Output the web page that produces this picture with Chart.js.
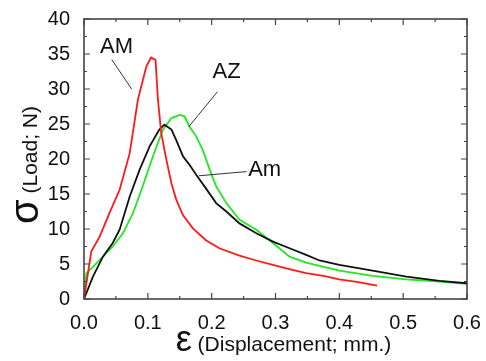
<!DOCTYPE html>
<html>
<head>
<meta charset="utf-8">
<script src="https://cdn.jsdelivr.net/npm/chart.js@4/dist/chart.umd.min.js"></script>
<style>
    html, body { margin: 0; padding: 0; background: #fff; }
    #wrap { width: 486px; height: 361px; }
</style>
</head>
<body>
<div id="wrap"><canvas id="loadChart" width="486" height="361"></canvas></div>
<script>
// Curve data (displacement, load)
const amX = [0, 0.0115, 0.0245, 0.040, 0.0558, 0.0715, 0.0845, 0.0976, 0.105, 0.109, 0.112, 0.1158, 0.121, 0.129, 0.137, 0.1445, 0.155, 0.1706, 0.191, 0.212, 0.2436, 0.27, 0.296, 0.32, 0.348, 0.375, 0.40, 0.43, 0.459];
const amY = [0, 6.8, 8.9, 12.3, 15.6, 20.8, 28.5, 33.2, 34.5, 34.3, 34.2, 28.5, 23.7, 19.9, 16.5, 14.2, 12.0, 10.1, 8.4, 7.25, 6.2, 5.5, 4.86, 4.3, 3.7, 3.3, 2.8, 2.4, 1.9];

const amSmallX = [0, 0.014, 0.0297, 0.045, 0.0558, 0.0715, 0.087, 0.1028, 0.118, 0.126, 0.137, 0.1445, 0.155, 0.165, 0.176, 0.191, 0.207, 0.223, 0.2436, 0.27, 0.296, 0.322, 0.348, 0.369, 0.40, 0.452, 0.505, 0.557, 0.6];
const amSmallY = [0, 3.2, 6.05, 8.0, 9.9, 14.6, 18.45, 21.8, 24.2, 24.9, 24.2, 22.7, 20.4, 19.2, 17.7, 15.8, 13.7, 12.5, 10.8, 9.4, 8.2, 7.25, 6.3, 5.5, 4.86, 4.05, 3.2, 2.6, 2.25];

const azX = [0, 0.0037, 0.014, 0.0297, 0.045, 0.061, 0.0767, 0.092, 0.108, 0.1236, 0.137, 0.150, 0.1575, 0.165, 0.176, 0.186, 0.197, 0.207, 0.223, 0.2436, 0.27, 0.296, 0.322, 0.348, 0.40, 0.452, 0.505, 0.557, 0.6];
const azY = [0, 3.7, 4.6, 6.05, 7.5, 9.4, 12.25, 16.1, 20.4, 24.2, 25.85, 26.3, 26.1, 24.65, 23.2, 21.3, 18.45, 16.1, 13.7, 11.3, 9.9, 8.0, 6.05, 5.2, 4.05, 3.3, 2.8, 2.5, 2.15];

// Tick values
const xTicks = [0, 0.1, 0.2, 0.3, 0.4, 0.5, 0.6];
const yTicks = [0, 5, 10, 15, 20, 25, 30, 35, 40];

// Labels with leader lines, in data units
const labelNames = ['AM', 'AZ', 'Am'];
const labelPos = [[0.051, 36.05], [0.2233, 32.5], [0.283, 18.45]];
const leaderFrom = [[0.0435, 34.2], [0.209, 29.6], [0.2546, 18.2]];
const leaderTo = [[0.0746, 30.0], [0.164, 24.6], [0.1795, 17.6]];

const FONT = '"Liberation Sans", Arial, sans-serif';

function toPoints(xs, ys) {
    return xs.map((x, i) => ({ x: x, y: ys[i] }));
}

// Frame, inward ticks, axis titles and annotations
const decorPlugin = {
    id: 'decor',
    afterDraw(chart) {
        const ctx = chart.ctx;
        const a = chart.chartArea;
        const xs = chart.scales.x;
        const ys = chart.scales.y;
        ctx.save();

        // ticks on all four sides
        ctx.strokeStyle = '#444';
        ctx.lineWidth = 1.2;
        ctx.beginPath();
        for (let i = 0; i < xTicks.length; i++) {
            const px = xs.getPixelForValue(xTicks[i]);
            ctx.moveTo(px, a.bottom); ctx.lineTo(px, a.bottom - 6);
            ctx.moveTo(px, a.top); ctx.lineTo(px, a.top + 6);
            if (i < xTicks.length - 1) {
                const mx = xs.getPixelForValue((xTicks[i] + xTicks[i + 1]) / 2);
                ctx.moveTo(mx, a.bottom); ctx.lineTo(mx, a.bottom - 3);
                ctx.moveTo(mx, a.top); ctx.lineTo(mx, a.top + 3);
            }
        }
        for (let i = 0; i < yTicks.length; i++) {
            const py = ys.getPixelForValue(yTicks[i]);
            ctx.moveTo(a.left, py); ctx.lineTo(a.left + 6, py);
            ctx.moveTo(a.right, py); ctx.lineTo(a.right - 6, py);
            if (i < yTicks.length - 1) {
                const my = ys.getPixelForValue((yTicks[i] + yTicks[i + 1]) / 2);
                ctx.moveTo(a.left, my); ctx.lineTo(a.left + 3, my);
                ctx.moveTo(a.right, my); ctx.lineTo(a.right - 3, my);
            }
        }
        ctx.stroke();

        // frame
        ctx.lineWidth = 1.6;
        ctx.strokeRect(a.left, a.top, a.right - a.left, a.bottom - a.top);

        // leader lines + labels
        ctx.strokeStyle = '#333';
        ctx.lineWidth = 1;
        ctx.fillStyle = '#111';
        ctx.font = '22px ' + FONT;
        ctx.textAlign = 'center';
        ctx.textBaseline = 'middle';
        for (let i = 0; i < labelNames.length; i++) {
            ctx.beginPath();
            ctx.moveTo(xs.getPixelForValue(leaderFrom[i][0]), ys.getPixelForValue(leaderFrom[i][1]));
            ctx.lineTo(xs.getPixelForValue(leaderTo[i][0]), ys.getPixelForValue(leaderTo[i][1]));
            ctx.stroke();
            ctx.fillText(labelNames[i], xs.getPixelForValue(labelPos[i][0]), ys.getPixelForValue(labelPos[i][1]));
        }

        // x title: big epsilon + text
        ctx.textAlign = 'left';
        ctx.textBaseline = 'alphabetic';
        const eps = 'ε';
        ctx.font = '36px ' + FONT;
        const wEps = ctx.measureText(eps).width;
        ctx.font = '21px ' + FONT;
        const xText = ' (Displacement; mm.)';
        const wX = ctx.measureText(xText).width;
        const startX = (a.left + a.right) / 2 + 8 - (wEps + wX) / 2;
        ctx.font = '36px ' + FONT;
        ctx.fillText(eps, startX, 351);
        ctx.font = '21px ' + FONT;
        ctx.fillText(xText, startX + wEps, 351);

        // y title: big sigma + text, rotated
        ctx.translate(38, (a.top + a.bottom) / 2 + 6);
        ctx.rotate(-Math.PI / 2);
        const sig = 'σ';
        ctx.font = '40px ' + FONT;
        const wSig = ctx.measureText(sig).width;
        ctx.font = '21px ' + FONT;
        const yText = ' (Load; N)';
        const wY = ctx.measureText(yText).width;
        const startY = -(wSig + wY) / 2;
        ctx.font = '40px ' + FONT;
        ctx.fillText(sig, startY, 0);
        ctx.font = '21px ' + FONT;
        ctx.fillText(yText, startY + wSig, -1);

        ctx.restore();
    }
};

new Chart(document.getElementById('loadChart'), {
    type: 'line',
    data: {
        datasets: [
            {
                label: 'AM',
                data: toPoints(amX, amY),
                borderColor: '#ff1a1a',
                borderWidth: 1.8
            },
            {
                label: 'Am',
                data: toPoints(amSmallX, amSmallY),
                borderColor: '#111111',
                borderWidth: 1.8
            },
            {
                label: 'AZ',
                data: toPoints(azX, azY),
                borderColor: '#22e822',
                borderWidth: 1.8
            }
        ]
    },
    options: {
        responsive: false,
        animation: false,
        devicePixelRatio: 1,
        elements: {
            point: { radius: 0 },
            line: { tension: 0 }
        },
        layout: { padding: { top: 19, right: 19, left: 0, bottom: 0 } },
        plugins: {
            legend: { display: false },
            tooltip: { enabled: false }
        },
        scales: {
            x: {
                type: 'linear',
                min: 0,
                max: 0.6,
                grid: { display: false },
                border: { display: false },
                afterBuildTicks: (scale) => { scale.ticks = xTicks.map(v => ({ value: v })); },
                afterFit: (scale) => { scale.height = 62; },
                ticks: {
                    color: '#111',
                    padding: 4,
                    maxRotation: 0,
                    font: { family: FONT, size: 20 },
                    callback: (v) => Number(v).toFixed(1)
                }
            },
            y: {
                type: 'linear',
                min: 0,
                max: 40,
                grid: { display: false },
                border: { display: false },
                afterBuildTicks: (scale) => { scale.ticks = yTicks.map(v => ({ value: v })); },
                afterFit: (scale) => { scale.width = 84; },
                ticks: {
                    color: '#111',
                    padding: 6,
                    font: { family: FONT, size: 20 }
                }
            }
        }
    },
    plugins: [decorPlugin]
});
</script>
</body>
</html>
